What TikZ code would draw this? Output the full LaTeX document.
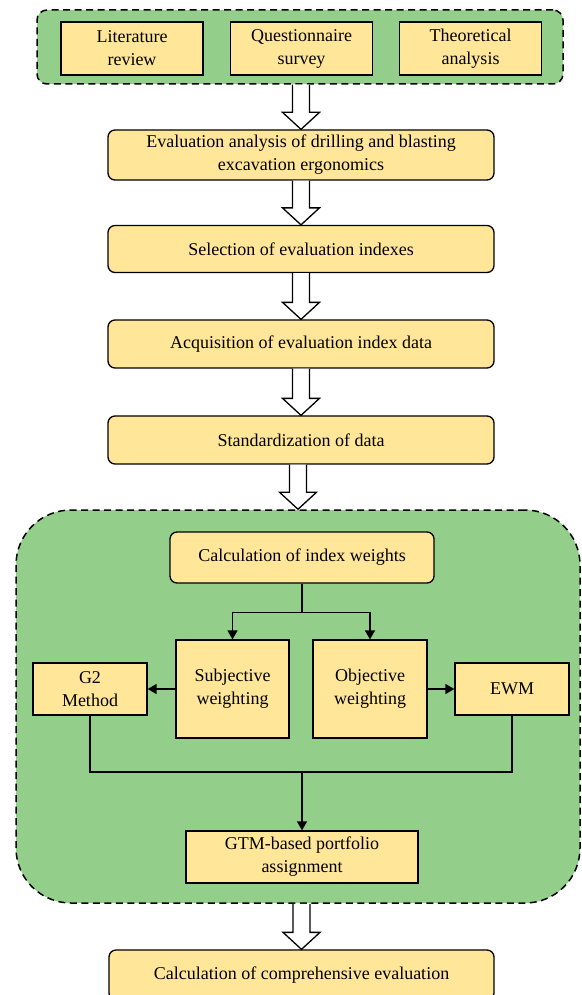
\documentclass[tikz,border=0pt]{standalone}
\usepackage{fontspec}
\setmainfont{Liberation Serif}
\usetikzlibrary{positioning,calc,arrows.meta}

\definecolor{boxyellow}{RGB}{255,230,153}
\definecolor{groupgreen}{RGB}{147,207,139}

\tikzset{
  stepbox/.style={draw, line width=1.3pt, fill=boxyellow, rounded corners=7pt,
    align=center, inner sep=0pt, font=\fontsize{18}{23}\selectfont},
  sqbox/.style={stepbox, rounded corners=0pt},
  groupbox/.style={draw, fill=groupgreen, line width=1.5pt, dash pattern=on 7pt off 4.5pt},
  link/.style={line width=1.5pt},
  linkarrow/.style={link, -{Triangle[length=9pt,width=10pt]}}
}

% hollow block arrow from the bottom of #1 to the top of #2
\newcommand{\blockarrow}[2]{%
  \draw[line width=1.3pt, fill=white, line join=miter]
    ($(#1.south -| #2.north)+(-8.5,0)$) -- ($(#2.north)+(-8.5,-17)$) -- ($(#2.north)+(-18.5,-17)$)
    -- (#2.north) -- ($(#2.north)+(18.5,-17)$) -- ($(#2.north)+(8.5,-17)$)
    -- ($(#1.south -| #2.north)+(8.5,0)$);
}

\begin{document}
\begin{tikzpicture}[x=1pt, y=-1pt]
  \useasboundingbox (0,0) rectangle (581,995);

  % sources
  \node[groupbox, rounded corners=10pt, minimum width=526pt, minimum height=74pt] (sources) at (300,47) {};
  \node[sqbox, minimum width=142pt, minimum height=53pt] (lit) at (132,48.5) {Literature\\review};
  \node[sqbox, minimum width=142pt, minimum height=53pt] (quest) at (301.5,48.5) {Questionnaire\\survey};
  \node[sqbox, minimum width=142pt, minimum height=53pt] (theor) at (470.5,48.5) {Theoretical\\analysis};

  % main steps
  \node[stepbox, minimum width=386pt, minimum height=50pt] (eval) at (301,155) {Evaluation analysis of drilling and blasting\\excavation ergonomics};
  \node[stepbox, minimum width=386pt, minimum height=47pt] (select) at (301,249) {Selection of evaluation indexes};
  \node[stepbox, minimum width=386pt, minimum height=48pt] (acquire) at (301,344) {Acquisition of evaluation index data};
  \node[stepbox, minimum width=386pt, minimum height=48pt] (standard) at (301,440) {Standardization of data};

  % weighting
  \node[groupbox, rounded corners=55pt, minimum width=564pt, minimum height=393pt] (weighting) at (298,706.5) {};
  \node[stepbox, minimum width=264pt, minimum height=51pt] (weights) at (302,557.5) {Calculation of index weights};
  \node[sqbox, minimum width=113pt, minimum height=98pt] (subj) at (232.5,689) {Subjective\\weighting};
  \node[sqbox, minimum width=114pt, minimum height=98pt] (obj) at (370,689) {Objective\\weighting};
  \node[sqbox, minimum width=114pt, minimum height=52pt] (gtwo) at (90,689) {G2\\Method};
  \node[sqbox, minimum width=114pt, minimum height=52pt] (ewm) at (512,689) {EWM};
  \node[sqbox, minimum width=232pt, minimum height=52pt] (gtm) at (302,857) {GTM-based portfolio\\assignment};

  \node[stepbox, minimum width=385pt, minimum height=50pt] (comp) at (301.5,975) {Calculation of comprehensive evaluation};

  \blockarrow{sources}{eval}
  \blockarrow{eval}{select}
  \blockarrow{select}{acquire}
  \blockarrow{acquire}{standard}
  \blockarrow{standard}{weighting}
  \blockarrow{weighting}{comp}

  \draw[link] (weights.south) -- ++(0,29) coordinate (split);
  \draw[linkarrow] (split) -| (subj.north);
  \draw[linkarrow] (split) -| (obj.north);
  \draw[linkarrow] (subj.west) -- (gtwo.east);
  \draw[linkarrow] (obj.east) -- (ewm.west);
  \coordinate (join) at (302,772);
  \draw[link] (gtwo.south) |- (join) -| (ewm.south);
  \draw[linkarrow] (join) -- (gtm.north);
\end{tikzpicture}
\end{document}
